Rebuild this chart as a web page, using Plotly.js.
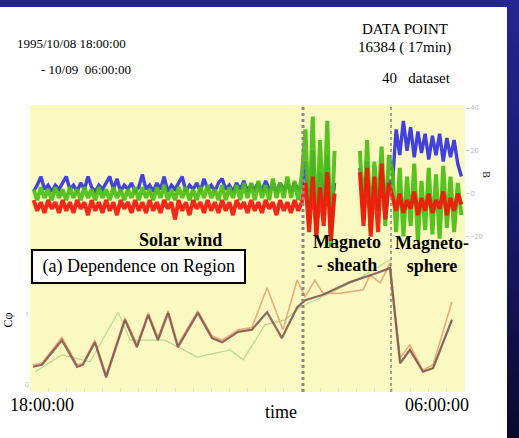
<!DOCTYPE html>
<html>
<head>
<meta charset="utf-8">
<script src="https://cdn.plot.ly/plotly-3.0.1.min.js"></script>
<style>
  html, body { margin:0; padding:0; background:#ffffff; }
  #wrap { position:relative; width:519px; height:438px; overflow:hidden; }
  #chart { position:absolute; left:0; top:0; width:519px; height:438px; }
  #topbar { position:absolute; left:0; top:0; width:519px; height:7px; background:#25258e; z-index:5; pointer-events:none; }
  #rightbar { position:absolute; left:507px; top:0; width:12px; height:438px; background:linear-gradient(#25258e, #18186a 50%, #0a0a2c); z-index:5; pointer-events:none; }
</style>
</head>
<body>
<div id="wrap">
  <div id="chart"></div>
  <div id="topbar"></div>
  <div id="rightbar"></div>
</div>
<script>
// time in hours after 1995/10/08 18:00:00
const timeHours = [
  0.1,0.2,0.3,0.4,0.5,0.6,0.7,0.8,0.9,1.0,
  1.1,1.2,1.3,1.4,1.5,1.6,1.7,1.8,1.9,2.0,
  2.1,2.2,2.3,2.4,2.5,2.6,2.7,2.8,2.9,3.0,
  3.1,3.2,3.3,3.4,3.5,3.6,3.7,3.8,3.9,4.0,
  4.1,4.2,4.3,4.4,4.5,4.6,4.7,4.8,4.9,5.0,
  5.1,5.2,5.3,5.4,5.5,5.6,5.7,5.8,5.9,6.0,
  6.1,6.2,6.3,6.4,6.5,6.6,6.7,6.8,6.9,7.0,
  7.1,7.2,7.3,7.4,7.5,7.6,7.7,7.8,7.9,8.0,
  8.1,8.2,8.3,8.4,8.5,8.6,8.7,8.8,8.9,9.0,
  9.1,9.2,9.3,9.4,9.5,9.6,9.7,9.8,9.9,10.0,
  10.1,10.2,10.3,10.4,10.5,10.6,10.7,10.8,10.9,11.0,
  11.1,11.2,11.3,11.4,11.5,11.6,11.7,11.8,11.9
];

// magnetic field components B (nT)
const bBlue = [
  1,4,8,2,4,1,4,2,5,8,
  2,4,1,5,2,8,3,1,4,2,
  5,8,2,7,1,4,2,5,1,3,
  9,2,4,1,5,2,8,1,4,2,
  5,8,1,4,2,5,1,7,2,4,
  1,5,7,2,4,1,5,2,6,1,
  4,2,5,1,6,2,4,1,5,2,
  4,1,5,2,3,
  15,-10,20,-15,10,-5,18,-12,5,
  null,null,null,null,null,null,
  12,-8,15,-10,8,-6,10,-12,6,
  5,30,18,34,20,31,17,29,19,28,16,27,18,28,15,26,17,25,14,8
];
const bGreen = [
  2,-3,3,-2,2,-3,3,-2,2,-3,
  3,-2,2,-3,3,-2,2,-3,3,-2,
  2,-3,3,-2,2,-3,2,-2,3,-3,
  3,-2,2,-3,3,-2,4,-3,2,-3,
  3,-2,3,-3,2,-3,3,-2,4,-2,
  2,-3,4,-3,3,-2,4,-3,5,-2,
  5,-3,6,-2,4,-3,7,-2,5,-2,
  8,-2,6,-3,9,
  30,-15,36,-20,25,-10,34,-25,20,
  null,null,null,null,null,null,
  20,-12,25,-18,15,-8,22,-15,18,
  10,-18,12,-20,8,-15,14,-22,6,-17,12,-19,9,-21,13,-16,8,-18,5,-10
];
const bRed = [
  -3,-8,-4,-9,-3,-7,-4,-9,-3,-8,
  -4,-9,-3,-7,-4,-10,-3,-8,-4,-9,
  -3,-8,-4,-10,-3,-7,-4,-9,-3,-8,
  -4,-9,-3,-8,-4,-9,-3,-7,-4,-12,
  -3,-8,-4,-10,-3,-7,-4,-9,-3,-8,
  -4,-9,-3,-8,-4,-10,-3,-7,-4,-9,
  -3,-8,-4,-9,-3,-7,-4,-10,-3,-8,
  -4,-9,-3,-8,-4,
  5,-18,8,-20,3,-15,10,-22,0,
  null,null,null,null,null,null,
  10,-15,12,-20,8,-18,14,-12,5,
  -2,-8,0,-9,-3,-7,1,-10,-2,-8,0,-9,-3,-7,1,-10,-2,-8,0,-5
];

// C-phi per dataset
const cphiTimeMain = [0.08,0.33,0.88,1.30,1.46,1.79,2.10,2.62,2.95,3.26,3.53,3.81,4.08,4.63,5.02,5.30,5.74,6.12,6.54,6.95,7.37,7.59,8.08,8.83,9.57,9.93,10.21,10.48,10.84,11.12,11.64];
const cphiMain     = [0.26,0.29,0.64,0.26,0.29,0.61,0.11,0.93,0.54,1.00,0.64,1.03,0.54,1.03,0.67,0.61,0.76,0.79,1.04,0.67,1.11,1.21,1.29,1.47,1.60,1.67,0.31,0.50,0.19,0.24,0.93];
const cphiTimeAlt  = [0.08,0.33,0.88,1.30,1.46,1.79,2.10,2.62,2.95,3.26,3.53,3.81,4.08,4.63,5.02,5.30,5.74,6.12,6.54,6.98,7.37,7.59,7.86,8.08,8.55,9.19,9.38,9.66,9.93,10.21,10.48,10.84,11.12,11.64];
const cphiAlt      = [0.29,0.31,0.68,0.29,0.31,0.64,0.15,0.96,0.58,1.03,0.68,1.06,0.58,1.06,0.70,0.64,0.79,0.82,1.39,0.79,1.50,1.26,1.50,1.31,1.31,1.36,1.57,1.46,1.74,0.39,0.57,0.21,0.29,1.19];
const cphiTimeLow  = [0.14,0.88,1.66,2.43,2.76,3.72,4.61,5.52,5.88,6.48,7.03,7.45,8.28,9.10,9.93,10.21,10.48,10.84,11.12,11.64];
const cphiLow      = [0.19,0.43,0.33,1.04,0.64,0.64,0.40,0.50,0.36,0.86,0.93,1.11,1.31,1.53,1.79,0.33,0.52,0.20,0.25,0.95];

// region boundaries (hours)
const regionBounds = [7.53, 9.96];
const bTicks = [-20, 0, 20, 40];

const serif = '"Liberation Serif", "Times New Roman", serif';

const traces = [
  {x: timeHours, y: bBlue, type:'scatter', mode:'lines', line:{color:'rgb(50,50,225)', width:3.4}, connectgaps:false, opacity:0.92},
  {x: timeHours, y: bGreen, type:'scatter', mode:'lines', line:{color:'rgb(75,190,20)', width:4}, connectgaps:false, opacity:0.92},
  {x: timeHours, y: bRed, type:'scatter', mode:'lines', line:{color:'rgb(245,22,10)', width:4}, connectgaps:false, opacity:0.92},
  {x: cphiTimeLow, y: cphiLow, yaxis:'y2', type:'scatter', mode:'lines', line:{color:'rgba(150,210,120,0.7)', width:1.2}},
  {x: cphiTimeAlt, y: cphiAlt, yaxis:'y2', type:'scatter', mode:'lines', line:{color:'rgba(235,150,95,0.8)', width:1.6}},
  {x: cphiTimeMain, y: cphiMain, yaxis:'y2', type:'scatter', mode:'lines', line:{color:'rgba(125,78,80,0.85)', width:2.2}}
];

const ann = (text, x, y, size, opts) => Object.assign({
  text: text, xref:'paper', yref:'paper', x: x, y: y, showarrow:false,
  font:{family: serif, size: size, color:'#000'}, xanchor:'center', yanchor:'middle'
}, opts || {});

const layout = {
  width: 519, height: 438,
  margin: {l:30, r:54, t:105, b:46, pad:0},
  paper_bgcolor:'#ffffff',
  plot_bgcolor:'#fbf9c2',
  showlegend:false,
  xaxis: {range:[0,12], showticklabels:false, ticks:'inside', dtick:0.5, tick0:0, ticklen:4, tickcolor:'#e2e2cc',
          showgrid:false, zeroline:false, showline:false},
  yaxis: {range:[-92.6, 41.4], side:'right', tickvals: bTicks, ticks:'outside', ticklen:3, tickcolor:'#cccccc',
          tickfont:{size:7, color:'#b5b5b5'}, showgrid:false, zeroline:false, showline:false},
  yaxis2: {range:[-0.1, 4.0], overlaying:'y', side:'left', tickvals:[0,1], ticktext:['0','1'], ticks:'',
           tickfont:{size:7, color:'#b5b5b5'}, showgrid:false, zeroline:false, showline:false},
  shapes: [
    {type:'line', xref:'x', yref:'paper', x0: regionBounds[0], x1: regionBounds[0], y0:0, y1:1,
     line:{color:'#8a8a8a', width:3, dash:'dot'}},
    {type:'line', xref:'x', yref:'paper', x0: regionBounds[1], x1: regionBounds[1], y0:0, y1:1,
     line:{color:'#7a7a7a', width:1.3, dash:'dot'}}
  ],
  annotations: [
    ann('1995/10/08 18:00:00', -0.0345, 1.216, 13, {xanchor:'left'}),
    ann('- 10/09\u00a0 06:00:00', 0.02, 1.122, 13, {xanchor:'left'}),
    ann('DATA POINT', 0.8615, 1.265, 15),
    ann('16384 ( 17min)', 0.86, 1.202, 15),
    ann('40\u00a0\u00a0 dataset', 0.972, 1.094, 15, {xanchor:'right'}),
    ann('<b>Solar wind</b>', 0.345, 0.530, 18),
    ann('<b>Magneto<br>- sheath</b>', 0.729, 0.484, 18),
    ann('<b>Magneto-<br>sphere</b>', 0.924, 0.480, 18),
    ann('\u00a0(a) Dependence on Region\u00a0', 0.25, 0.437, 18,
        {bgcolor:'#ffffff', bordercolor:'#000000', borderwidth:2, borderpad:5}),
    ann('B', 1.05, 0.756, 10, {textangle:90}),
    ann('Cφ', -0.05, 0.25, 12, {textangle:-90}),
    ann('18:00:00', 0.0287, -0.045, 18),
    ann('time', 0.578, -0.07, 18),
    ann('06:00:00', 0.9345, -0.045, 18)
  ]
};

Plotly.newPlot('chart', traces, layout, {staticPlot:true, displayModeBar:false});
</script>
</body>
</html>
